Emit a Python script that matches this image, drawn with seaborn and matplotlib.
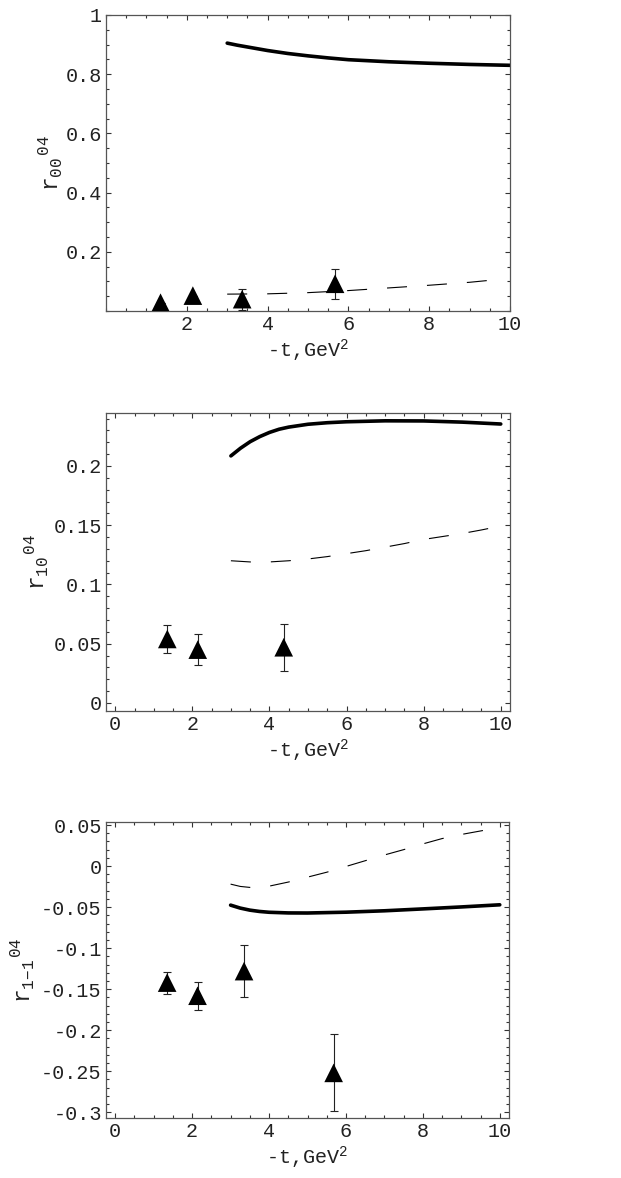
import matplotlib
matplotlib.use("Agg")
import matplotlib.pyplot as plt
import seaborn as sns
import pandas as pd
from matplotlib.ticker import MultipleLocator

# ---------------- data ----------------
# panel 1: r00^04
p1_solid_x = [3, 3.25, 3.5, 4, 4.5, 5, 5.5, 6, 7, 8, 9, 10]
p1_solid_y = [0.905, 0.898, 0.892, 0.880, 0.870, 0.862, 0.855, 0.849, 0.842, 0.837, 0.833, 0.830]
p1_dash_x = [3, 4, 5, 6, 7, 8, 9, 9.6]
p1_dash_y = [0.057, 0.058, 0.062, 0.069, 0.078, 0.087, 0.097, 0.105]
p1_pts_x = [1.35, 2.15, 3.37, 5.67]
p1_pts_y = [0.028, 0.052, 0.040, 0.092]
p1_pts_err = [0.0, 0.0, 0.035, 0.05]

# panel 2: r10^04
p2_solid_x = [3, 3.25, 3.5, 3.75, 4, 4.25, 4.5, 5, 5.5, 6, 7, 8, 9, 10]
p2_solid_y = [0.2085, 0.215, 0.2205, 0.2248, 0.2283, 0.231, 0.2328, 0.2352, 0.2365,
              0.2373, 0.2381, 0.2380, 0.2370, 0.2354]
p2_dash_x = [3, 3.5, 4, 4.5, 5, 5.5, 6, 6.5, 7, 7.5, 8, 8.5, 9, 9.5, 9.8]
p2_dash_y = [0.120, 0.119, 0.119, 0.120, 0.1215, 0.1235, 0.126, 0.1285, 0.1315,
             0.1345, 0.138, 0.1405, 0.143, 0.146, 0.148]
p2_pts_x = [1.35, 2.14, 4.37]
p2_pts_y = [0.054, 0.045, 0.047]
p2_pts_err = [0.012, 0.013, 0.020]

# panel 3: r1-1^04
p3_solid_x = [3, 3.25, 3.5, 3.75, 4, 4.5, 5, 6, 7, 8, 9, 10]
p3_solid_y = [-0.0476, -0.0512, -0.0537, -0.0553, -0.0563, -0.0571, -0.0572, -0.0562,
              -0.0545, -0.0522, -0.0498, -0.0472]
p3_dash_x = [3, 3.25, 3.5, 3.75, 4, 4.5, 5, 5.5, 6, 6.5, 7, 7.5, 8, 8.5, 9, 9.7]
p3_dash_y = [-0.022, -0.0248, -0.026, -0.0257, -0.0245, -0.0195, -0.0135, -0.0075,
             -0.0005, 0.0065, 0.0135, 0.020, 0.027, 0.0335, 0.0385, 0.0445]
p3_pts_x = [1.35, 2.14, 3.35, 5.68]
p3_pts_y = [-0.142, -0.158, -0.128, -0.252]
p3_pts_err = [0.0135, 0.017, 0.032, 0.047]

x_label = "-t,GeV$^{2}$"
y_labels = ["r$_{00}{}^{\\,04}$", "r$_{10}{}^{\\,04}$", "r$_{1{-}1}{}^{\\,04}$"]

p1_yticks = [0.2, 0.4, 0.6, 0.8, 1.0]
p1_yticklabels = ["0.2", "0.4", "0.6", "0.8", "1"]
p1_xticks = [2, 4, 6, 8, 10]
p2_yticks = [0, 0.05, 0.1, 0.15, 0.2]
p2_yticklabels = ["0", "0.05", "0.1", "0.15", "0.2"]
p3_yticks = [-0.3, -0.25, -0.2, -0.15, -0.1, -0.05, 0, 0.05]
p3_yticklabels = ["-0.3", "-0.25", "-0.2", "-0.15", "-0.1", "-0.05", "0", "0.05"]
p23_xticks = [0, 2, 4, 6, 8, 10]

# ---------------- style ----------------
sns.set_theme(style="ticks")
plt.rcParams["font.family"] = ["Liberation Mono", "DejaVu Sans"]
plt.rcParams["mathtext.fontset"] = "custom"
plt.rcParams["mathtext.rm"] = "Liberation Mono"
plt.rcParams["mathtext.it"] = "Liberation Mono"
plt.rcParams["mathtext.bf"] = "Liberation Mono"
plt.rcParams["axes.unicode_minus"] = False

W, H = 621, 1178
fig = plt.figure(figsize=(W / 100, H / 100), dpi=100)
fig.patch.set_facecolor("white")

# (left, top, right, bottom) in pixels
boxes = [(106, 15, 510, 311), (106, 413, 510, 711), (106, 822, 509, 1118)]

panels = [
    dict(sx=p1_solid_x, sy=p1_solid_y, dx=p1_dash_x, dy=p1_dash_y,
         px=p1_pts_x, py=p1_pts_y, pe=p1_pts_err,
         xlim=(0, 10), ylim=(0, 1.0), xticks=p1_xticks, xtl=[str(v) for v in p1_xticks],
         yticks=p1_yticks, ytl=p1_yticklabels, ymin=0.05, lab_x=-0.102),
    dict(sx=p2_solid_x, sy=p2_solid_y, dx=p2_dash_x, dy=p2_dash_y,
         px=p2_pts_x, py=p2_pts_y, pe=p2_pts_err,
         xlim=(-0.24, 10.24), ylim=(-0.0068, 0.2447), xticks=p23_xticks,
         xtl=[str(v) for v in p23_xticks],
         yticks=p2_yticks, ytl=p2_yticklabels, ymin=0.01, lab_x=-0.135),
    dict(sx=p3_solid_x, sy=p3_solid_y, dx=p3_dash_x, dy=p3_dash_y,
         px=p3_pts_x, py=p3_pts_y, pe=p3_pts_err,
         xlim=(-0.24, 10.24), ylim=(-0.307, 0.0537), xticks=p23_xticks,
         xtl=[str(v) for v in p23_xticks],
         yticks=p3_yticks, ytl=p3_yticklabels, ymin=0.01, lab_x=-0.171),
]

for i, (box, p) in enumerate(zip(boxes, panels)):
    l, t, r, b = box
    ax = fig.add_axes([l / W, 1 - b / H, (r - l) / W, (b - t) / H])
    ax.set_facecolor("white")

    sns.lineplot(x=p["sx"], y=p["sy"], ax=ax, color="black", lw=2.6,
                 sort=False, estimator=None)
    sns.lineplot(x=p["dx"], y=p["dy"], ax=ax, color="black", lw=0.8,
                 linestyle=(0, (18, 18)), sort=False, estimator=None)

    ax.errorbar(p["px"], p["py"], yerr=p["pe"], fmt="none", ecolor="#222222",
                elinewidth=0.8, capsize=3, capthick=0.8, zorder=3)
    sns.scatterplot(x=p["px"], y=p["py"], ax=ax, marker="^", s=180,
                    color="black", edgecolor="none", zorder=4)

    ax.set_xlim(*p["xlim"])
    ax.set_ylim(*p["ylim"])
    ax.set_xticks(p["xticks"])
    ax.set_xticklabels(p["xtl"])
    ax.set_yticks(p["yticks"])
    ax.set_yticklabels(p["ytl"])
    ax.xaxis.set_minor_locator(MultipleLocator(0.5))
    ax.yaxis.set_minor_locator(MultipleLocator(p["ymin"]))

    for s in ax.spines.values():
        s.set_visible(True)
        s.set_color("#555555")
        s.set_linewidth(0.9)
    ax.tick_params(which="both", direction="in", top=True, right=True,
                   colors="#333333", labelcolor="#222222", width=0.8)
    ax.tick_params(which="major", length=3.5, labelsize=14.5, pad=3)
    ax.tick_params(which="minor", length=2.0)

    ax.set_xlabel(x_label, fontsize=14.5, color="#222222", labelpad=2)
    ax.set_ylabel(y_labels[i], fontsize=16.5, color="#222222")
    ax.yaxis.set_label_coords(p["lab_x"], 0.5)

fig.savefig("out.png", dpi=100, facecolor="white")
